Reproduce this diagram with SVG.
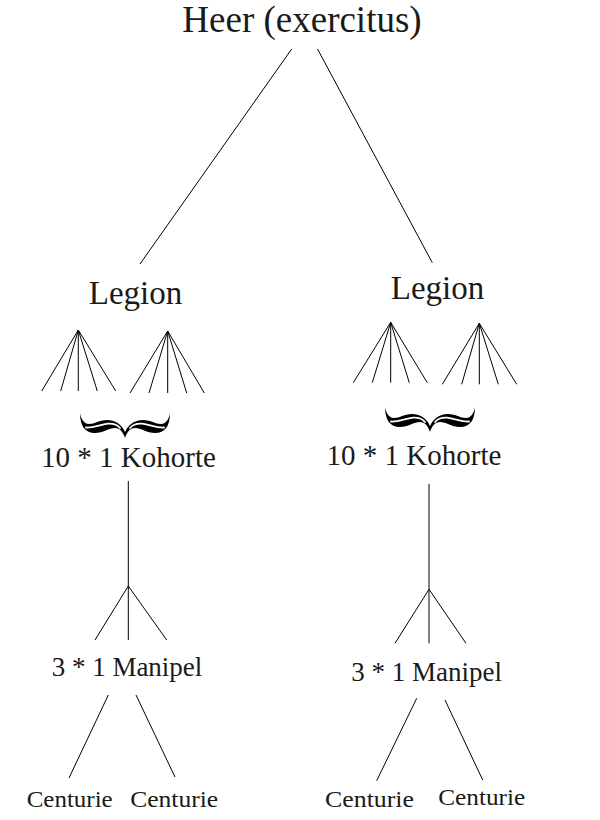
<svg xmlns="http://www.w3.org/2000/svg" width="600" height="820" viewBox="0 0 600 820">
<style>
  .t { font-family: "Liberation Serif", "Times New Roman", serif; fill: #1a1a1a; text-anchor: middle; }
  .c line { stroke: #000; stroke-width: 1; fill: none; }
  .brace { fill: #000; }
  .hl { fill: none; stroke: #fff; stroke-width: 1.8; stroke-linecap: round; }
</style>
<defs>
  <g id="brace">
    <path class="brace" d="M -45,-25 C -45,-12 -40,-5 -30,-5 C -22,-5 -16,-10 -10,-10 C -5,-10 -2,-6 0,0 C 2,-6 5,-10 10,-10 C 16,-10 22,-5 30,-5 C 40,-5 45,-12 45,-25 C 44,-19 41,-14 36,-14 C 30,-14 26,-18 18,-18 C 9,-18 3,-13 0,-6 C -3,-13 -9,-18 -18,-18 C -26,-18 -30,-14 -36,-14 C -41,-14 -44,-19 -45,-25 Z"/>
    <path class="hl" d="M -39,-10.5 C -31,-10 -25,-13.5 -17,-14.3 C -11,-14.7 -7,-12.5 -5,-10"/>
    <path class="hl" d="M 39,-10.5 C 31,-10 25,-13.5 17,-14.3 C 11,-14.7 7,-12.5 5,-10"/>
  </g>
</defs>
<rect width="600" height="820" fill="#fff"/>

<g id="connectors" class="c">
  <line x1="291.7" y1="49" x2="140" y2="264"/>
  <line x1="317.5" y1="49" x2="432.3" y2="262.7"/>
  <!-- left legion fans -->
  <line x1="78.3" y1="330" x2="41.7" y2="391"/>
  <line x1="78.3" y1="330" x2="60.7" y2="391"/>
  <line x1="78.3" y1="330" x2="78.3" y2="391"/>
  <line x1="78.3" y1="330" x2="97.3" y2="391"/>
  <line x1="78.3" y1="330" x2="115.7" y2="391"/>
  <line x1="167.7" y1="331" x2="130" y2="393"/>
  <line x1="167.7" y1="331" x2="149" y2="393"/>
  <line x1="167.7" y1="331" x2="167.7" y2="393"/>
  <line x1="167.7" y1="331" x2="186.7" y2="393"/>
  <line x1="167.7" y1="331" x2="204.3" y2="393"/>
  <!-- right legion fans -->
  <line x1="390.7" y1="322.3" x2="353.3" y2="382.7"/>
  <line x1="390.7" y1="322.3" x2="372.3" y2="382.7"/>
  <line x1="390.7" y1="322.3" x2="390.7" y2="382.7"/>
  <line x1="390.7" y1="322.3" x2="409.3" y2="382.7"/>
  <line x1="390.7" y1="322.3" x2="427.3" y2="382.7"/>
  <line x1="479.3" y1="323.3" x2="442.3" y2="384.3"/>
  <line x1="479.3" y1="323.3" x2="461.7" y2="384.3"/>
  <line x1="479.3" y1="323.3" x2="479.3" y2="384.3"/>
  <line x1="479.3" y1="323.3" x2="498.3" y2="384.3"/>
  <line x1="479.3" y1="323.3" x2="516.7" y2="384.3"/>
  <!-- kohorte to manipel -->
  <line x1="128.3" y1="481" x2="128.3" y2="640"/>
  <line x1="128.3" y1="586" x2="95" y2="640"/>
  <line x1="128.3" y1="586" x2="166.7" y2="640"/>
  <line x1="429" y1="484" x2="429" y2="643.3"/>
  <line x1="429" y1="589.3" x2="395" y2="643.3"/>
  <line x1="429" y1="589.3" x2="466" y2="643.3"/>
  <!-- manipel to centurie -->
  <line x1="108.3" y1="695" x2="69" y2="778"/>
  <line x1="136" y1="695" x2="175" y2="777"/>
  <line x1="416.7" y1="698.3" x2="376.7" y2="780.7"/>
  <line x1="445" y1="700" x2="482.7" y2="780"/>
</g>

<g id="heer"><text class="t" x="302" y="32" font-size="37">Heer (exercitus)</text></g>

<g id="legion-left"><text class="t" x="135.5" y="304" font-size="33">Legion</text></g>
<g id="legion-right"><text class="t" x="437.5" y="299" font-size="33">Legion</text></g>

<g id="brace-left"><use href="#brace" x="125" y="438"/></g>
<g id="brace-right"><use href="#brace" x="430" y="432"/></g>

<g id="kohorte-left"><text class="t" x="128.5" y="467" font-size="29">10 * 1 Kohorte</text></g>
<g id="kohorte-right"><text class="t" x="414" y="465" font-size="29">10 * 1 Kohorte</text></g>

<g id="manipel-left"><text class="t" x="127" y="676" font-size="27">3 * 1 Manipel</text></g>
<g id="manipel-right"><text class="t" x="426.7" y="680.7" font-size="27">3 * 1 Manipel</text></g>

<g id="centurie-1"><text class="t" x="69.7" y="807" font-size="23" textLength="86" lengthAdjust="spacingAndGlyphs">Centurie</text></g>
<g id="centurie-2"><text class="t" x="174.2" y="807" font-size="23" textLength="88" lengthAdjust="spacingAndGlyphs">Centurie</text></g>
<g id="centurie-3"><text class="t" x="369.5" y="807" font-size="23" textLength="89" lengthAdjust="spacingAndGlyphs">Centurie</text></g>
<g id="centurie-4"><text class="t" x="481.7" y="805" font-size="23" textLength="87" lengthAdjust="spacingAndGlyphs">Centurie</text></g>
</svg>
